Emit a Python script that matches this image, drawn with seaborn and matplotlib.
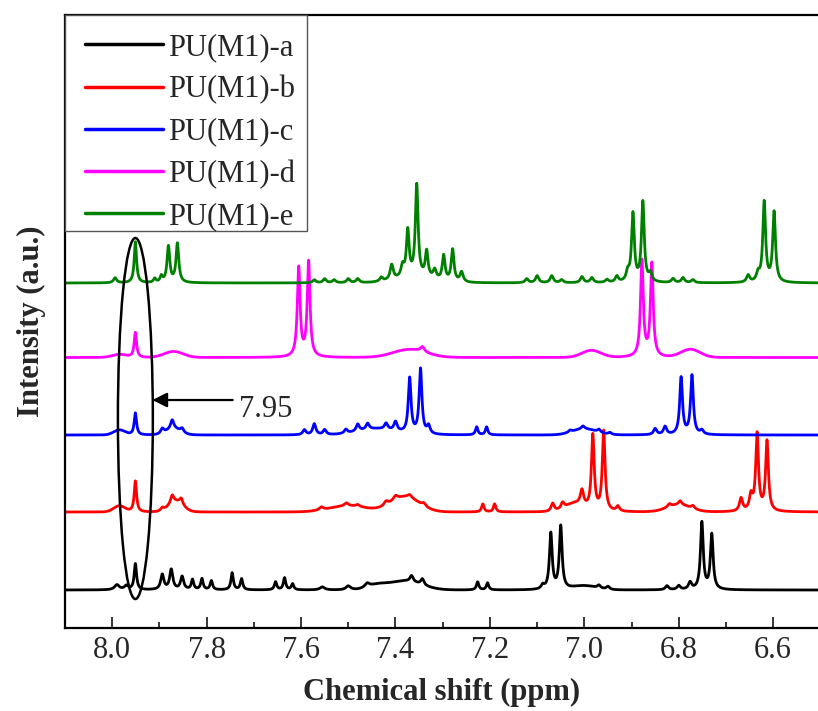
import numpy as np
import pandas as pd
import matplotlib
matplotlib.use("Agg")
import matplotlib.pyplot as plt
from matplotlib.patches import Ellipse, Rectangle
from matplotlib.ticker import MultipleLocator
import seaborn as sns

# ---------------- data ----------------
samples = ["PU(M1)-a", "PU(M1)-b", "PU(M1)-c", "PU(M1)-d", "PU(M1)-e"]
colors = ["#000000", "#FF0000", "#0000FF", "#FF00FF", "#008000"]
baselines = [38, 116, 193, 270.5, 345]          # vertical offsets (a.u.)

# sharp peaks: (shift ppm, height a.u., half width ppm)
peaks_a = [(7.990, 5, 0.006), (7.970, 4, 0.005), (7.951, 26, 0.003), (7.894, 15, 0.004),
           (7.875, 20, 0.004), (7.852, 13, 0.004), (7.830, 10, 0.003), (7.810, 11, 0.003),
           (7.790, 9, 0.003), (7.746, 17, 0.003), (7.726, 11, 0.003), (7.654, 8, 0.003),
           (7.635, 12, 0.003), (7.618, 6, 0.003), (7.555, 3, 0.006), (7.500, 4, 0.006),
           (7.460, 4, 0.006), (7.366, 6, 0.004), (7.343, 6, 0.004), (7.226, 8, 0.003),
           (7.205, 7, 0.003), (7.088, 4, 0.004), (7.071, 56, 0.0035), (7.050, 63, 0.0035),
           (6.969, 3, 0.004), (6.950, 3, 0.004), (6.825, 4, 0.004), (6.800, 4, 0.004),
           (6.776, 7, 0.004), (6.751, 67, 0.0035), (6.730, 55, 0.0035)]
humps_a = [(7.380, 9, 0.035), (7.440, 4, 0.02), (7.000, 4, 0.025)]

peaks_b = [(7.951, 31, 0.003), (7.894, 3, 0.004), (7.873, 8, 0.004), (7.854, 6, 0.004),
           (7.557, 3, 0.005), (7.504, 3, 0.005), (7.480, 2, 0.005), (7.420, 4, 0.005),
           (7.400, 4, 0.005), (7.370, 3, 0.005), (7.340, 3, 0.005), (7.215, 8, 0.003),
           (7.190, 8, 0.003), (7.067, 8, 0.004), (7.046, 6, 0.004), (7.005, 15, 0.004),
           (6.982, 75, 0.0035), (6.959, 80, 0.0035), (6.929, 5, 0.004), (6.820, 3, 0.004),
           (6.797, 4, 0.004), (6.770, 3, 0.004), (6.668, 13, 0.004), (6.647, 15, 0.004),
           (6.634, 77, 0.0035), (6.613, 70, 0.0035)]
humps_b = [(7.985, 6, 0.012), (7.865, 10, 0.015), (7.500, 6, 0.04), (7.380, 15, 0.03),
           (7.020, 8, 0.02), (6.800, 7, 0.025)]

peaks_c = [(7.951, 22, 0.003), (7.894, 5, 0.004), (7.873, 9, 0.004), (7.852, 4, 0.004),
           (7.593, 5, 0.004), (7.572, 11, 0.004), (7.550, 5, 0.004), (7.505, 4, 0.004),
           (7.480, 7, 0.004), (7.459, 6, 0.004), (7.420, 6, 0.004), (7.400, 9, 0.004),
           (7.370, 55, 0.0035), (7.347, 65, 0.0035), (7.330, 8, 0.004), (7.228, 8, 0.003),
           (7.207, 8, 0.003), (7.030, 2, 0.004), (7.003, 3, 0.004), (6.969, 3, 0.004),
           (6.946, 2, 0.004), (6.850, 6, 0.004), (6.829, 8, 0.004), (6.795, 57, 0.0035),
           (6.772, 59, 0.0035), (6.751, 4, 0.004)]
humps_c = [(7.985, 5, 0.012), (7.870, 6, 0.015), (7.440, 6, 0.04), (7.000, 6, 0.025)]

peaks_d = [(7.951, 25, 0.003), (7.605, 89, 0.0035), (7.584, 95, 0.0035), (7.343, 5, 0.005),
           (6.878, 96, 0.0035), (6.857, 93, 0.0035)]
humps_d = [(7.985, 3, 0.015), (7.870, 6, 0.02), (7.370, 8, 0.035), (6.985, 7, 0.02),
           (6.775, 8, 0.02)]

peaks_e = [(7.994, 5, 0.004), (7.951, 41, 0.003), (7.910, 4, 0.003), (7.896, 6, 0.003),
           (7.881, 36, 0.0035), (7.862, 39, 0.0035), (7.572, 3, 0.004), (7.550, 4, 0.004),
           (7.530, 3, 0.004), (7.500, 4, 0.004), (7.480, 4, 0.004), (7.430, 4, 0.004),
           (7.408, 15, 0.004), (7.385, 11, 0.004), (7.374, 46, 0.0035), (7.355, 92, 0.0035),
           (7.334, 26, 0.0035), (7.317, 9, 0.004), (7.298, 25, 0.0035), (7.279, 32, 0.0035),
           (7.260, 10, 0.004), (7.122, 4, 0.004), (7.100, 7, 0.004), (7.069, 7, 0.004),
           (7.048, 3, 0.004), (7.005, 6, 0.004), (6.984, 5, 0.004), (6.952, 3, 0.004),
           (6.931, 6, 0.004), (6.908, 9, 0.004), (6.897, 68, 0.0035), (6.876, 80, 0.0035),
           (6.860, 8, 0.004), (6.812, 4, 0.004), (6.791, 5, 0.004), (6.770, 3, 0.004),
           (6.653, 7, 0.004), (6.632, 8, 0.004), (6.619, 80, 0.0035), (6.598, 70, 0.0035)]
humps_e = [(7.360, 5, 0.04)]

peak_sets = [peaks_a, peaks_b, peaks_c, peaks_d, peaks_e]
hump_sets = [humps_a, humps_b, humps_c, humps_d, humps_e]

x_ticks = [8.0, 7.8, 7.6, 7.4, 7.2, 7.0, 6.8, 6.6]
x_lim = (8.10, 6.505)
y_lim = (0, 613)
marker_shift = 7.95

# ---------------- build spectra ----------------
ppm = np.linspace(8.10, 6.50, 6401)
rows = []
for name, base, pk, hp in zip(samples, baselines, peak_sets, hump_sets):
    y = np.full_like(ppm, float(base))
    for c, h, w in pk:
        y += h * w**2 / ((ppm - c) ** 2 + w**2)
    for c, h, s in hp:
        y += h * np.exp(-((ppm - c) ** 2) / (2 * s**2))
    rows.append(pd.DataFrame({"ppm": ppm, "intensity": y, "sample": name}))
df = pd.concat(rows, ignore_index=True)

# ---------------- plot ----------------
sns.set_style("ticks")
plt.rcParams["font.family"] = ["Liberation Serif", "DejaVu Serif"]

fig = plt.figure(figsize=(8.18, 7.11), dpi=100)
ax = fig.add_axes([0.0795, 0.1167, 0.9205, 0.8622])

sns.lineplot(data=df, x="ppm", y="intensity", hue="sample", palette=colors,
             hue_order=samples, linewidth=2.0, ax=ax, estimator=None, sort=False)

ax.set_xlim(*x_lim)
ax.set_ylim(*y_lim)
ax.set_xticks(x_ticks)
ax.set_xticklabels([f"{t:.1f}" for t in x_ticks])
ax.xaxis.set_minor_locator(MultipleLocator(0.1))
ax.set_yticks([])
ax.tick_params(axis="x", which="major", direction="in", length=8, width=1.3,
               labelsize=22, pad=6, top=False)
ax.tick_params(axis="x", which="minor", direction="in", length=4, width=1.3, top=False)
for s in ["left", "bottom", "top"]:
    ax.spines[s].set_linewidth(1.6)
    ax.spines[s].set_color("black")
ax.spines["right"].set_visible(False)

ax.set_xlabel("Chemical shift (ppm)", fontsize=22, fontweight="bold", labelpad=9)
ax.set_ylabel("Intensity (a.u.)", fontsize=22, fontweight="bold", labelpad=14)

# ellipse and arrow annotation
ax.add_patch(Ellipse((7.951, 209.5), width=0.074, height=361, fill=False,
                     edgecolor="black", linewidth=1.8, zorder=5))
ax.annotate("", xy=(7.915, 228), xytext=(7.745, 228),
            arrowprops=dict(arrowstyle="-|>", color="black", lw=1.6, mutation_scale=22,
                            shrinkA=0, shrinkB=0))
ax.text(7.732, 219, f"{marker_shift:.2f}", fontsize=22, ha="left", va="center")

# legend (frame drawn separately to match the reference box)
leg = ax.legend(loc="upper left", bbox_to_anchor=(20 / 753, 0.971), fontsize=22,
                frameon=False, borderaxespad=0, borderpad=0, handlelength=2.55,
                handletextpad=0.18, labelspacing=0.43)
for line in leg.get_lines():
    line.set_linewidth(2.5)
ax.add_patch(Rectangle((0, 0.6476), 242 / 753, 1 - 0.6476, transform=ax.transAxes,
                       fill=True, facecolor="white", edgecolor="#555555", linewidth=1.0,
                       zorder=4.5, clip_on=False))
leg.set_zorder(6)

fig.savefig("out.png", dpi=100)
